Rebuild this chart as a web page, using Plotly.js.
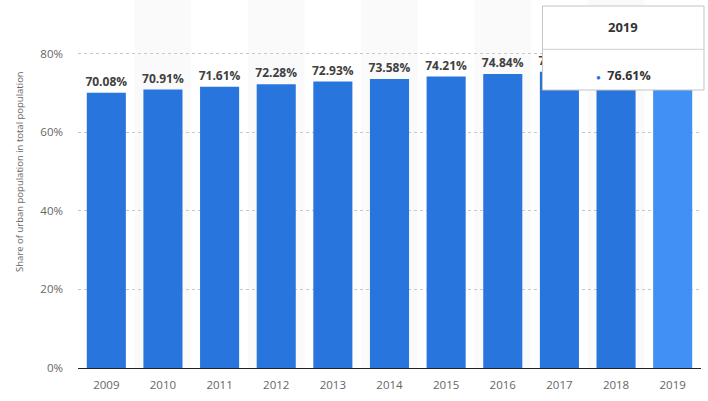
<!DOCTYPE html>
<html>
<head>
<meta charset="utf-8">
<script src="https://cdn.plot.ly/plotly-3.0.1.min.js"></script>
<style>
  html, body { margin: 0; padding: 0; background: #fff; }
  #chart { width: 708px; height: 401px; }
</style>
</head>
<body>
<div id="chart"></div>
<script>
// urban population share, per year
const years = ['2009', '2010', '2011', '2012', '2013', '2014', '2015', '2016', '2017', '2018', '2019'];
const shares = [70.08, 70.91, 71.61, 72.28, 72.93, 73.58, 74.21, 74.84, 75.44, 76.03, 76.61];
const yTicks = [0, 20, 40, 60, 80];
const yTickLabels = ['0%', '20%', '40%', '60%', '80%'];
const yTitle = 'Share of urban population in total population';
const hoverIndex = 10; // the bar the tooltip is open on

const baseColor = '#2876dd';
const hoverColor = '#4190f5';
const font = 'Open Sans, sans-serif';

const colors = years.map((y, i) => i == hoverIndex ? hoverColor : baseColor);

const trace = {
  type: 'bar',
  x: years,
  y: shares,
  marker: { color: colors },
  texttemplate: '%{y:.2f}%',
  textposition: 'outside',
  constraintext: 'none',
  cliponaxis: false,
  textfont: { family: font, size: 12, color: '#404040', weight: 'bold' },
  hoverinfo: 'none',
};

// light bands behind every other year
const shapes = [];
years.forEach((y, i) => {
  if (i % 2 == 1) {
    shapes.push({
      type: 'rect', layer: 'below',
      xref: 'x', yref: 'paper',
      x0: i - 0.5, x1: i + 0.5, y0: 0, y1: 1,
      fillcolor: '#fafafa', line: { width: 0 },
    });
  }
});

// static tooltip box
const box = { x0: 0.7456, x1: 1.0048, y0: 0.7554, y1: 0.9837, sep: 0.866 };
shapes.push({
  type: 'rect', layer: 'above', xref: 'paper', yref: 'paper',
  x0: box.x0, x1: box.x1, y0: box.y0, y1: box.y1,
  fillcolor: '#ffffff',
  line: { color: '#c4c4c4', width: 1 },
});
shapes.push({
  type: 'line', layer: 'above', xref: 'paper', yref: 'paper',
  x0: box.x0, x1: box.x1, y0: box.sep, y1: box.sep,
  line: { color: '#d0d0d0', width: 1 },
});

const boxMid = (box.x0 + box.x1) / 2;
const annotations = [
  {
    xref: 'paper', yref: 'paper', x: boxMid, y: 0.9266,
    xanchor: 'center', yanchor: 'middle',
    text: '<b>' + years[hoverIndex] + '</b>', showarrow: false,
    font: { family: font, size: 13, color: '#333' },
  },
  {
    xref: 'paper', yref: 'paper', x: boxMid, y: 0.796,
    xanchor: 'center', yanchor: 'middle',
    text: '<span style="color:' + baseColor + ';font-size:8px">●</span>  <b>' + shares[hoverIndex].toFixed(2) + '%</b>',
    showarrow: false,
    font: { family: font, size: 12.5, color: '#333' },
  },
  // y axis title, placed by hand so it sits a little above the middle
  {
    xref: 'paper', yref: 'paper', x: -0.093, y: 0.533,
    xanchor: 'center', yanchor: 'middle', textangle: -90,
    text: yTitle, showarrow: false,
    font: { family: font, size: 9.5, color: '#666' },
  },
];

const layout = {
  width: 708,
  height: 401,
  margin: { l: 78, r: 7, t: 0, b: 33 },
  paper_bgcolor: '#fff',
  plot_bgcolor: 'rgba(0,0,0,0)',
  bargap: 0.31,
  showlegend: false,
  font: { family: font, color: '#666' },
  xaxis: {
    type: 'category',
    showgrid: false,
    showline: true,
    linecolor: '#222',
    linewidth: 1,
    ticks: '',
    ticklabelstandoff: 6,
    tickfont: { family: font, size: 11.5, color: '#666' },
    fixedrange: true,
  },
  yaxis: {
    range: [0, 93.7],
    tickvals: yTicks,
    ticktext: yTickLabels,
    ticks: '',
    showline: false,
    zeroline: false,
    gridcolor: '#c8c8c8',
    griddash: 'dot',
    gridwidth: 1,
    ticklabelstandoff: 14,
    tickfont: { family: font, size: 11.5, color: '#666' },
    fixedrange: true,
  },
  shapes: shapes,
  annotations: annotations,
};

Plotly.newPlot('chart', [trace], layout, { displayModeBar: false, staticPlot: true });
</script>
</body>
</html>
